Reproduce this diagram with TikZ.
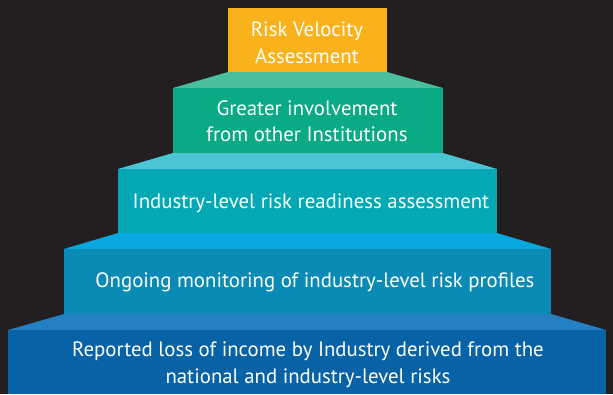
\documentclass[tikz,border=0pt]{standalone}
\usepackage{fontspec}
\setmainfont{PT Sans}
\definecolor{bg}{HTML}{231F20}
\definecolor{orng}{HTML}{F9B21B}
\definecolor{gtop}{HTML}{4ABFA0}
\definecolor{gfront}{HTML}{0AAA85}
\definecolor{ttop}{HTML}{4BC4D3}
\definecolor{tfront}{HTML}{02A9B4}
\definecolor{btop}{HTML}{07A8E0}
\definecolor{bfront}{HTML}{0A8BB5}
\definecolor{dtop}{HTML}{2580C3}
\definecolor{dfront}{HTML}{0762A6}
\tikzset{
  lbl/.style={text=white, font=\fontsize{20.8}{26.5}\selectfont, align=center, inner sep=0pt},
}
\begin{document}
\begin{tikzpicture}[x=1pt,y=-1pt]
\fill[bg] (0,0) rectangle (613,394);
\useasboundingbox (0,0) rectangle (613,394);
% level 1
\fill[orng] (228,8) rectangle (387,72);
% level 2
\fill[gtop] (228,72) -- (387,72) -- (443,88) -- (173,88) -- cycle;
\fill[gfront] (173,88) rectangle (443,153);
% level 3
\fill[ttop] (173,153) -- (443,153) -- (497,169) -- (118,169) -- cycle;
\fill[tfront] (118,169) rectangle (497,233);
% level 4
\fill[btop] (118,233) -- (497,233) -- (551,249) -- (64,249) -- cycle;
\fill[bfront] (64,249) rectangle (551,314);
% level 5
\fill[dtop] (64,314) -- (551,314) -- (606,330) -- (8,330) -- cycle;
\fill[dfront] (8,330) rectangle (606,394);
\node[lbl] (t1) at (307,43) {Risk Velocity\\Assessment};
\node[lbl] (t2) at (307,121) {Greater involvement\\from other Institutions};
\node[lbl] (t3) at (311,203) {Industry-level risk readiness assessment};
\node[lbl] (t4) at (315,282) {Ongoing monitoring of industry-level risk profiles};
\node[lbl] (t5) at (308,365) {Reported loss of income by Industry derived from the\\national and industry-level risks};
\end{tikzpicture}
\end{document}
